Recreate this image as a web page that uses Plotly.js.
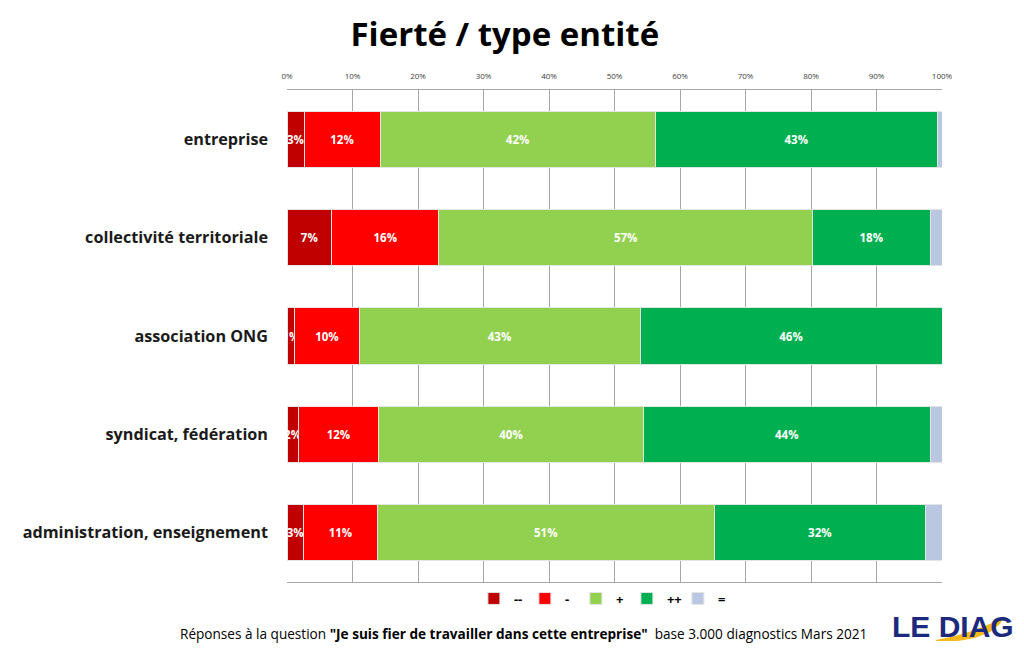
<!DOCTYPE html>
<html>
<head>
<meta charset="utf-8">
<script src="https://cdn.plot.ly/plotly-3.0.1.min.js"></script>
<style>
  html, body { margin: 0; padding: 0; background: #ffffff; }
  #chart { width: 1024px; height: 653px; }
</style>
</head>
<body>
<div id="chart"></div>
<script>
// Types d'entités (de haut en bas)
const categories = [
  "entreprise",
  "collectivité territoriale",
  "association ONG",
  "syndicat, fédération",
  "administration, enseignement"
];

// Réponses en % par niveau de fierté
const tresNegatif = [2.6, 6.8, 1.2, 1.7, 2.5];   // --
const negatif     = [11.6, 16.4, 9.8, 12.3, 11.3]; // -
const positif     = [42.0, 57.0, 42.9, 40.4, 51.4]; // +
const tresPositif = [43.1, 18.0, 46.1, 43.8, 32.3]; // ++
const neutre      = [0.7, 1.8, 0.0, 1.8, 2.5];     // =

const seriesNames = ["--", "-", "+", "++", "="];
const seriesColors = ["#C00000", "#FF0000", "#92D050", "#00B050", "#B9C7E2"];
const seriesValues = [tresNegatif, negatif, positif, tresPositif, neutre];
const showLabels = [true, true, true, true, false];

const tickValues = [0, 10, 20, 30, 40, 50, 60, 70, 80, 90, 100];
const tickLabels = tickValues.map(v => v + "%");

const traces = seriesNames.map((name, i) => ({
  type: "bar",
  orientation: "h",
  name: name,
  y: categories,
  x: seriesValues[i],
  marker: { color: seriesColors[i], line: { color: "#e4e4e4", width: 1 } },
  text: showLabels[i] ? seriesValues[i].map(v => Math.round(v) + "%") : undefined,
  textposition: showLabels[i] ? "inside" : "none",
  insidetextanchor: "middle",
  textangle: 0,
  textfont: { family: "Open Sans, sans-serif", size: 11.5, color: "#ffffff", weight: 700 },
  cliponaxis: false,
  hoverinfo: "name+x"
}));

// Plot area in pixels (for placing the logo)
const W = 1024, H = 653;
const M = { l: 287, r: 82, t: 90, b: 71 };
const pw = W - M.l - M.r, ph = H - M.t - M.b;
const px = x => (x - M.l) / pw;
const py = y => (H - M.b - y) / ph;

// Yellow swoosh of the logo
const swoosh = [
  [936, 640], [955, 636], [975, 630], [992, 623], [1004, 616],
  [1000, 624], [990, 632], [975, 638], [958, 641], [936, 641]
];
const swooshPath = "M " + swoosh.map(p => px(p[0]).toFixed(4) + "," + py(p[1]).toFixed(4)).join(" L ") + " Z";

const layout = {
  width: W,
  height: H,
  margin: M,
  paper_bgcolor: "#ffffff",
  plot_bgcolor: "#ffffff",
  barmode: "stack",
  bargap: 0.43,
  font: { family: "Open Sans, sans-serif", color: "#000000" },
  title: {
    text: "<b>Fierté / type entité</b>",
    font: { family: "Open Sans, sans-serif", size: 33, color: "#000000" },
    x: 0.493, xref: "container", xanchor: "center",
    y: 0.948, yref: "container", yanchor: "middle"
  },
  xaxis: {
    side: "top",
    range: [0, 100],
    tickvals: tickValues,
    ticktext: tickLabels,
    tickfont: { size: 8, color: "#404040" },
    ticklabelstandoff: 7,
    showgrid: true,
    gridcolor: "#a6a6a6",
    gridwidth: 1,
    zeroline: false,
    showline: true,
    mirror: true,
    linecolor: "#a6a6a6",
    linewidth: 1,
    ticks: "",
    fixedrange: true
  },
  yaxis: {
    autorange: "reversed",
    tickfont: { family: "Open Sans, sans-serif", size: 16.2, color: "#1a1a1a", weight: 700 },
    ticks: "",
    ticklabelstandoff: 18,
    showgrid: false,
    showline: false,
    zeroline: false,
    fixedrange: true
  },
  legend: {
    orientation: "h",
    x: 0.48, xanchor: "center",
    y: -0.003, yanchor: "top",
    font: { size: 13, color: "#000000", weight: 700 },
    itemwidth: 30,
    entrywidth: 6,
    entrywidthmode: "pixels",
    traceorder: "normal",
    bgcolor: "rgba(0,0,0,0)"
  },
  uniformtext: { mode: "show", minsize: 11 },
  annotations: [
    {
      text: 'Réponses à la question <b>"Je suis fier de travailler dans cette entreprise"</b>  base 3.000 diagnostics Mars 2021',
      xref: "paper", yref: "paper",
      x: px(523), y: py(633),
      xanchor: "center", yanchor: "middle",
      showarrow: false,
      font: { family: "Open Sans, sans-serif", size: 13.6, color: "#000000" }
    },
    {
      text: "<b>LE DIAG</b>",
      xref: "paper", yref: "paper",
      x: px(953), y: py(626),
      xanchor: "center", yanchor: "middle",
      showarrow: false,
      font: { family: "Liberation Sans, Arial, sans-serif", size: 30, color: "#1B2A7C" }
    }
  ],
  shapes: [
    {
      type: "path",
      xref: "paper", yref: "paper",
      path: swooshPath,
      fillcolor: "#F6B81A",
      line: { width: 0 },
      layer: "above"
    }
  ],
  showlegend: true
};

Plotly.newPlot("chart", traces, layout, { displayModeBar: false, staticPlot: true });
</script>
</body>
</html>
